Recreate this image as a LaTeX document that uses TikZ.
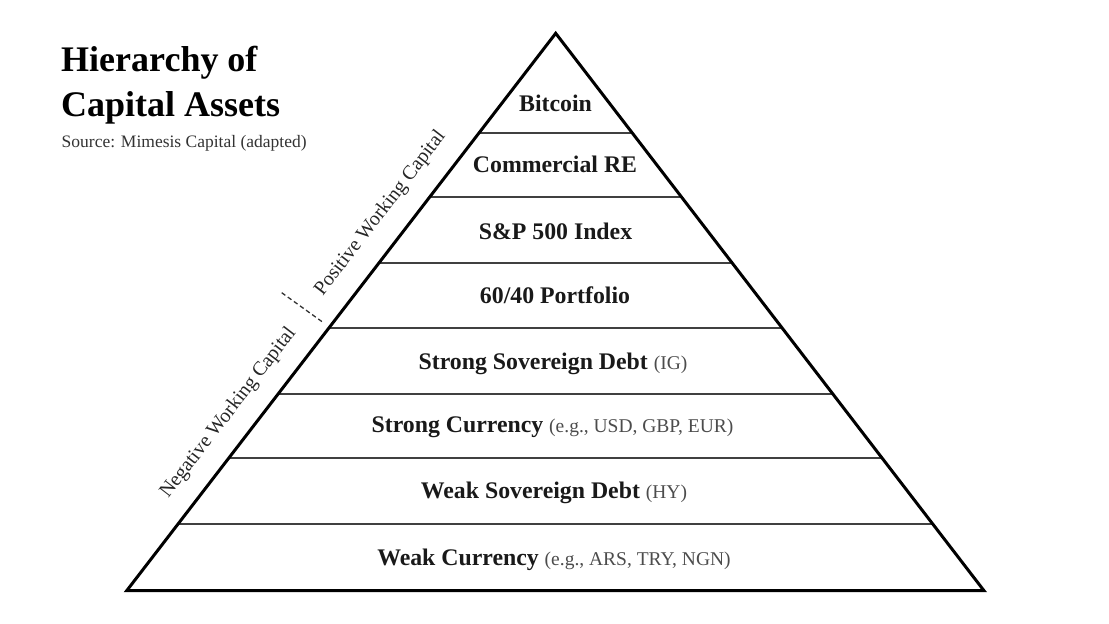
\documentclass[tikz,border=0pt]{standalone}
\usepackage{fontspec}
\setmainfont{Liberation Serif}
\begin{document}
\begin{tikzpicture}[x=1pt,y=-1pt,
  side/.style={line width=3pt, line join=miter, black},
  divider/.style={line width=1.5pt, black!75},
  lbl/.style={anchor=base, inner sep=0pt, font=\fontsize{23.8}{26}\selectfont\bfseries, text=black!90},
  rotlbl/.style={rotate=52.4, inner sep=0pt, font=\fontsize{20}{22}\selectfont, text=black!85},
  title/.style={anchor=base west, inner sep=0pt, font=\fontsize{36}{42}\selectfont\bfseries},
  srcstyle/.style={anchor=base west, inner sep=0pt, font=\fontsize{17.5}{20}\selectfont, text=black!80},
  dashline/.style={line width=1.3pt, dash pattern=on 4.5pt off 3pt, black!80}
]
\newcommand{\pnote}[1]{{\fontsize{19.5}{22}\selectfont\mdseries\color{black!70}#1}}
\useasboundingbox (0,0) rectangle (1109,624);
\coordinate (apex) at (555.7,33.3);
\coordinate (bl) at (126.7,590.7);
\coordinate (br) at (984,590.7);
\begin{scope}
  \clip (apex) -- (bl) -- (br) -- cycle;
  \foreach \yy in {133,197,263,328,394,458,524} \draw[divider] (100,\yy) -- (1000,\yy);
\end{scope}
\draw[side] (apex) -- (bl) -- (br) -- cycle;

\node[lbl] (l1) at (555.5,111) {Bitcoin};
\node[lbl] (l2) at (555,172) {Commercial RE};
\node[lbl] (l3) at (555.5,239) {S\&P 500 Index};
\node[lbl] (l4) at (555,303) {60/40 Portfolio};
\node[lbl] (l5) at (553,369) {Strong Sovereign Debt \pnote{(IG)}};
\node[lbl] (l6) at (552.5,432) {Strong Currency \pnote{(e.g., USD, GBP, EUR)}};
\node[lbl] (l7) at (554,498) {Weak Sovereign Debt \pnote{(HY)}};
\node[lbl] (l8) at (554,565) {Weak Currency \pnote{(e.g., ARS, TRY, NGN)}};

\node[rotlbl] (pos) at (380.5,213.5) {Positive Working Capital};
\node[rotlbl] (neg) at (228.5,413) {Negative Working Capital};
\coordinate (d1) at (281.7,292.7);
\coordinate (d2) at (324.3,323.3);
\draw[dashline] (d1) -- (d2);

\node[title] (t1) at (61,71.7) {Hierarchy of};
\node[title] (t2) at (61,116) {Capital Assets};
\node[srcstyle] (src) at (61.5,147.5) {Source: Mimesis Capital (adapted)};
\end{tikzpicture}
\end{document}
